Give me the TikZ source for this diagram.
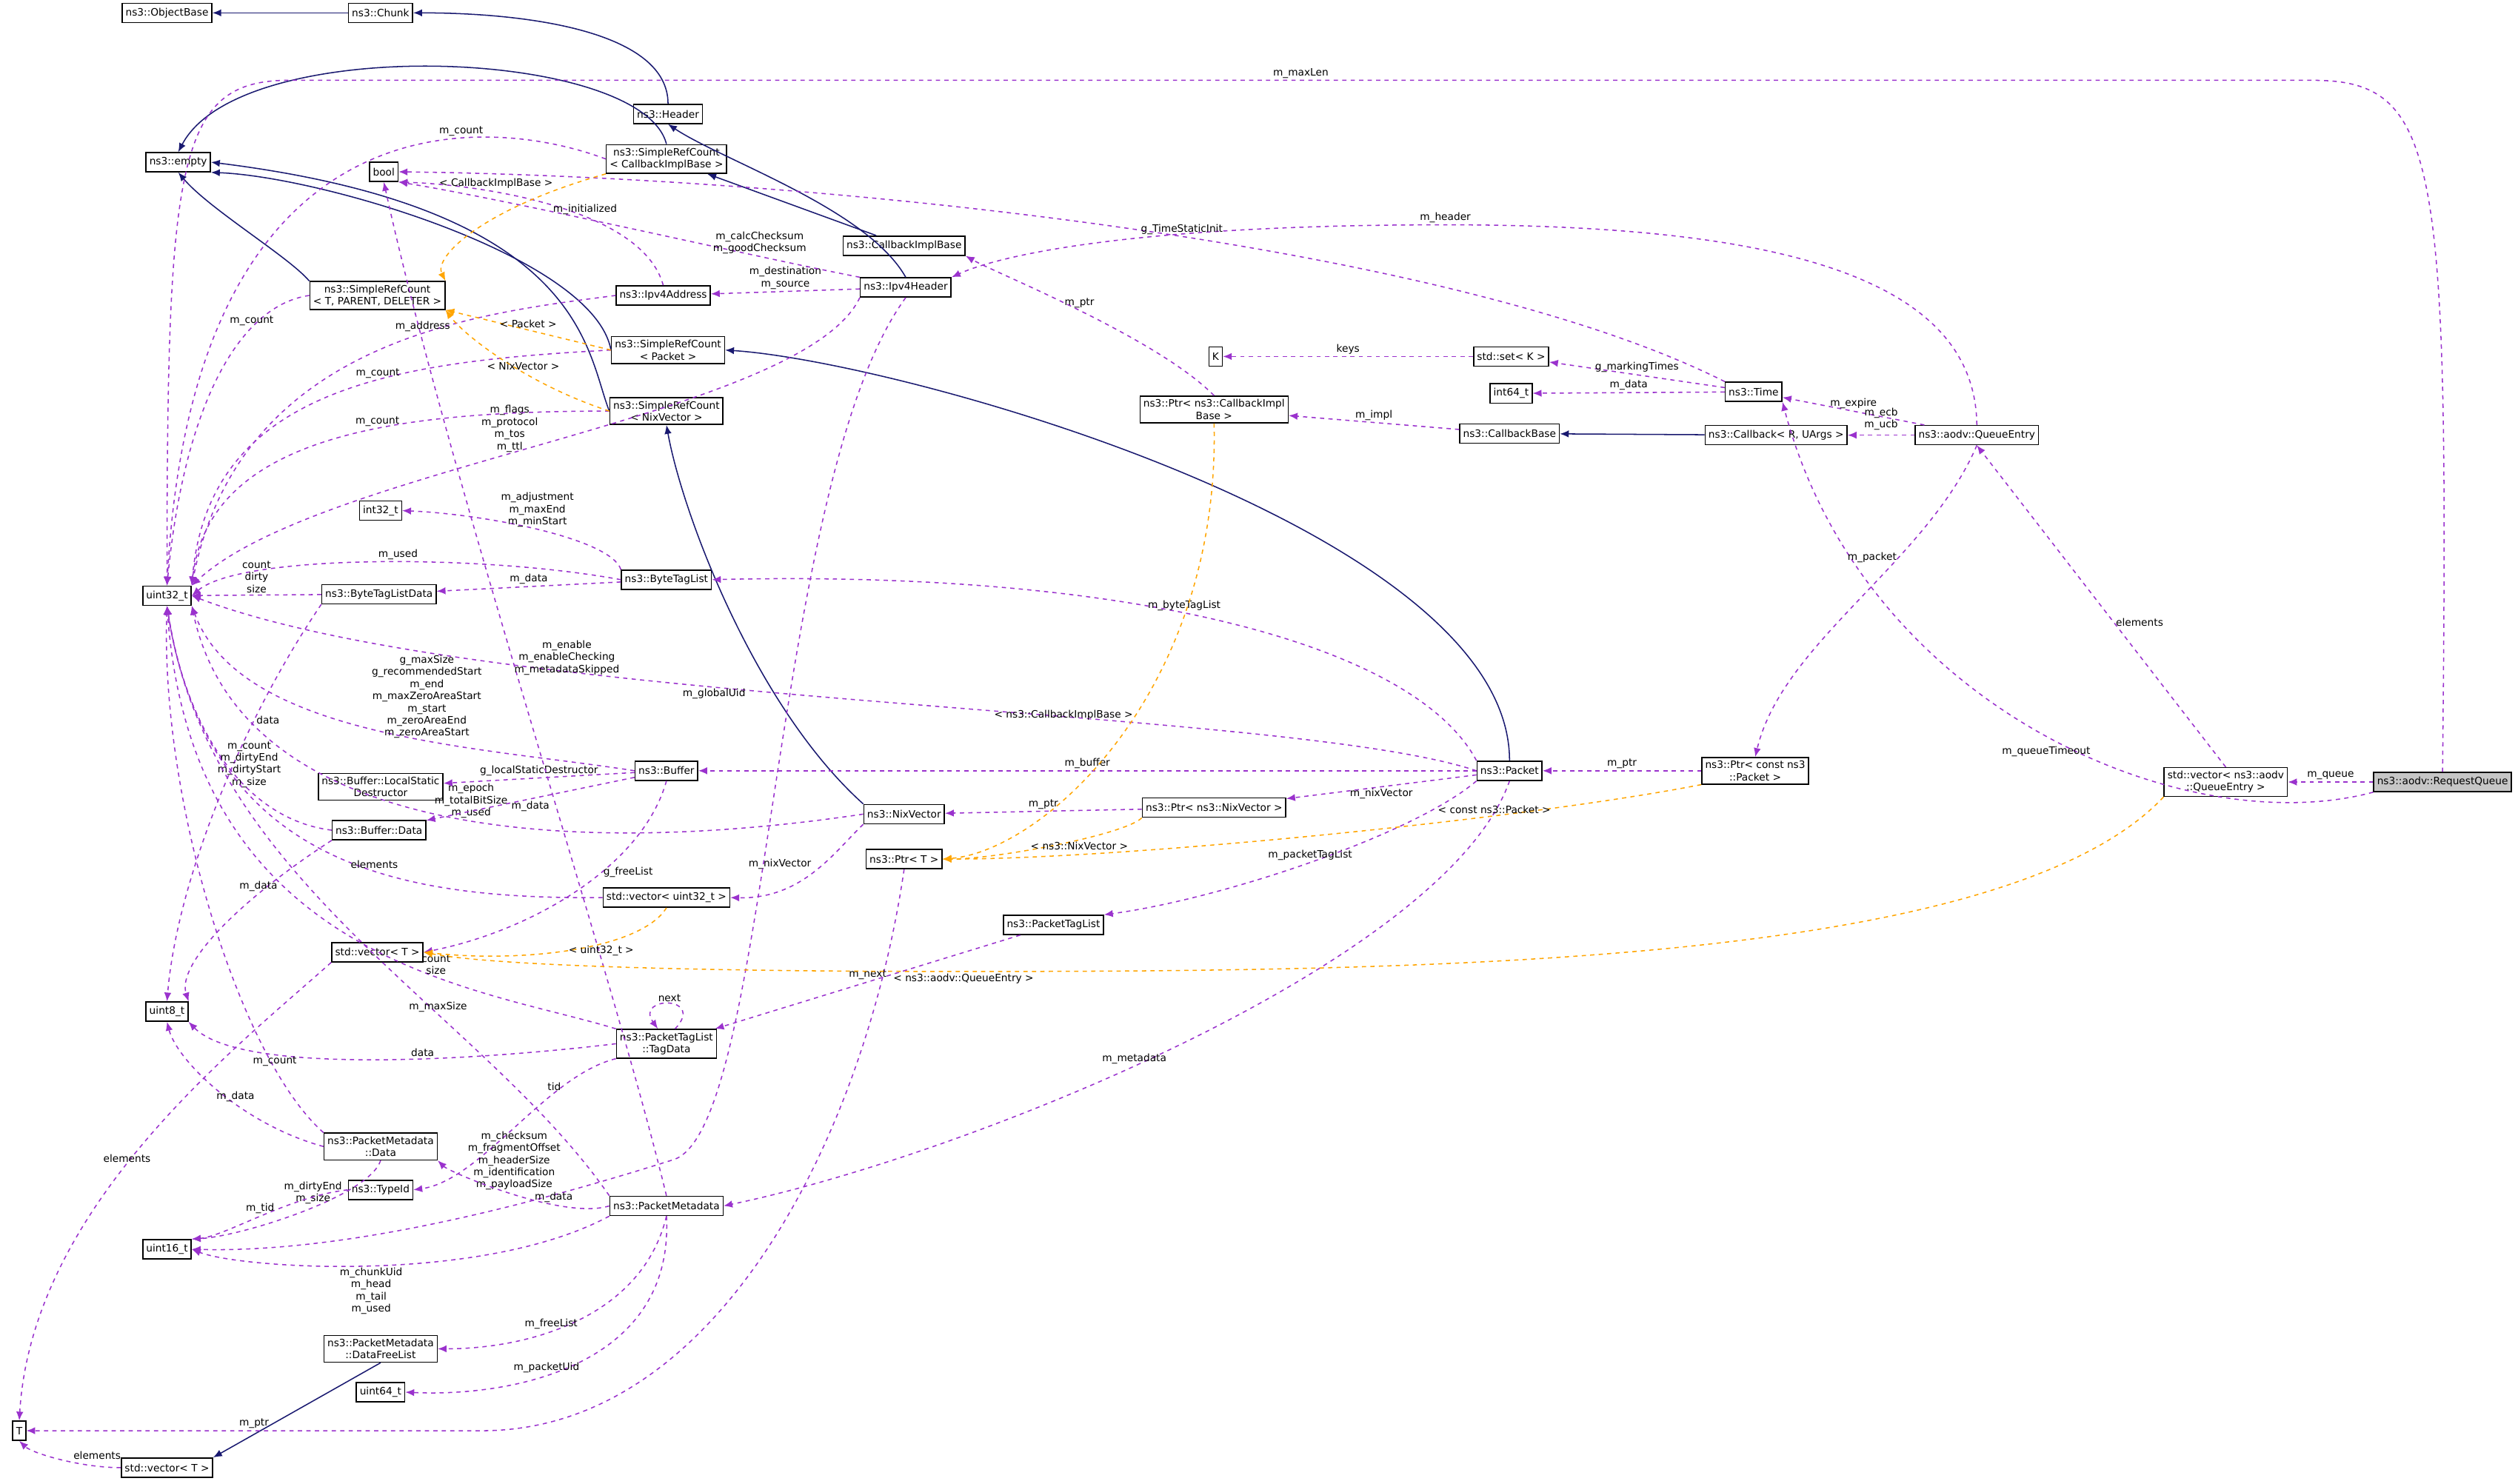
\documentclass[tikz,border=0pt]{standalone}
\usepackage{fontspec}
\setsansfont{DejaVu Sans}
\usetikzlibrary{arrows.meta}
\definecolor{navy}{HTML}{191970}
\definecolor{mauve}{HTML}{9A32CD}
\definecolor{amber}{HTML}{FFA500}
\tikzset{
  cls/.style={draw, rectangle, inner sep=1.2pt, minimum height=0.24cm, align=center,
    font=\sffamily\fontsize{3.6}{4.3}\selectfont},
  cur/.style={cls, fill=gray!45},
  lbl/.style={inner sep=0.6pt, align=center, font=\sffamily\fontsize{3.6}{4.3}\selectfont},
  inh/.style={draw=navy, line width=0.4pt, -{Latex[length=1.1mm,width=0.9mm]}},
  use/.style={draw=mauve, line width=0.4pt, dash pattern=on 1.5pt off 1.5pt, -{Latex[length=1.1mm,width=0.9mm]}},
  tpl/.style={draw=amber, line width=0.4pt, dash pattern=on 1.5pt off 1.5pt, -{Latex[length=1.1mm,width=0.9mm]}}
}
\begin{document}
\begin{tikzpicture}[x=0.02cm, y=-0.02cm]
    \path[fill=white, use as bounding box] (0,0) rectangle (1568,924);
    % classes
    \node[cls] (ObjBase) at (104,8) {ns3::ObjectBase};
    \node[cls] (Chunk) at (237,8) {ns3::Chunk};
    \node[cls] (Empty) at (111,101) {ns3::empty};
    \node[cls] (Bool) at (239,107) {bool};
    \node[cls] (Header) at (416,71) {ns3::Header};
    \node[cls] (SrcCib) at (415,99) {ns3::SimpleRefCount\\< CallbackImplBase >};
    \node[cls] (Cib) at (563,153) {ns3::CallbackImplBase};
    \node[cls] (SrcT) at (235,184) {ns3::SimpleRefCount\\< T, PARENT, DELETER >};
    \node[cls] (Ipv4Addr) at (413,184) {ns3::Ipv4Address};
    \node[cls] (Ipv4Hdr) at (564,179) {ns3::Ipv4Header};
    \node[cls] (SrcPkt) at (416,218) {ns3::SimpleRefCount\\< Packet >};
    \node[cls] (SrcNix) at (415,256) {ns3::SimpleRefCount\\< NixVector >};
    \node[cls] (K) at (757,222) {K};
    \node[cls] (SetK) at (941,222) {std::set< K >};
    \node[cls] (Int64) at (941,245) {int64\_t};
    \node[cls] (Time) at (1092,244) {ns3::Time};
    \node[cls] (PtrCib) at (756,255) {ns3::Ptr< ns3::CallbackImpl\\Base >};
    \node[cls] (CbBase) at (940,270) {ns3::CallbackBase};
    \node[cls] (Cb) at (1106,271) {ns3::Callback< R, UArgs >};
    \node[cls] (QEntry) at (1231,271) {ns3::aodv::QueueEntry};
    \node[cls] (Int32) at (237,318) {int32\_t};
    \node[cls] (BTL) at (415,361) {ns3::ByteTagList};
    \node[cls] (U32) at (104,371) {uint32\_t};
    \node[cls] (BTLD) at (236,370) {ns3::ByteTagListData};
    \node[cls] (Buf) at (415,480) {ns3::Buffer};
    \node[cls] (LSD) at (237,490) {ns3::Buffer::LocalStatic\\Destructor};
    \node[cls] (BufData) at (236,517) {ns3::Buffer::Data};
    \node[cls] (Nix) at (563,507) {ns3::NixVector};
    \node[cls] (PtrNix) at (756,503) {ns3::Ptr< ns3::NixVector >};
    \node[cls] (Pkt) at (940,480) {ns3::Packet};
    \node[cls] (PtrPkt) at (1093,480) {ns3::Ptr< const ns3\\::Packet >};
    \node[cls] (VecQE) at (1386,487) {std::vector< ns3::aodv\\::QueueEntry >};
    \node[cur] (ReqQ) at (1521,487) {ns3::aodv::RequestQueue};
    \node[cls] (PtrT) at (563,535) {ns3::Ptr< T >};
    \node[cls] (VecU32) at (415,559) {std::vector< uint32\_t >};
    \node[cls] (PTL) at (656,576) {ns3::PacketTagList};
    \node[cls] (VecT) at (235,593) {std::vector< T >};
    \node[cls] (U8) at (104,630) {uint8\_t};
    \node[cls] (TagData) at (415,650) {ns3::PacketTagList\\::TagData};
    \node[cls] (PMData) at (237,714) {ns3::PacketMetadata\\::Data};
    \node[cls] (TypeId) at (237,741) {ns3::TypeId};
    \node[cls] (PM) at (415,751) {ns3::PacketMetadata};
    \node[cls] (U16) at (104,778) {uint16\_t};
    \node[cls] (DFL) at (237,840) {ns3::PacketMetadata\\::DataFreeList};
    \node[cls] (U64) at (237,867) {uint64\_t};
    \node[cls] (T) at (12,891) {T};
    \node[cls] (VecTb) at (104,914) {std::vector< T >};
    % inheritance
    \draw[inh] (Chunk) -- (ObjBase);
    \draw[inh] (Header.north) .. controls (416,20) and (330,8) .. (Chunk.east);
    \draw[inh] (SrcCib.north) .. controls (400,30) and (150,20) .. (Empty.north);
    \draw[inh] (Cib) -- (SrcCib);
    \draw[inh] (Ipv4Hdr.north) .. controls (540,130) and (450,100) .. (Header.south);
    \draw[inh] (SrcT.north west) .. controls (180,160) and (130,130) .. (Empty.south);
    \draw[inh] (SrcPkt.west) .. controls (370,160) and (200,110) .. (Empty.south east);
    \draw[inh] (SrcNix.west) .. controls (365,220) and (365,130) .. (Empty.east);
    \draw[inh] (Pkt.north) .. controls (940,330) and (560,225) .. (SrcPkt.east);
    \draw[inh] (Nix.north west) .. controls (470,440) and (425,320) .. (SrcNix.south);
    \draw[inh] (Cb) -- (CbBase);
    \draw[inh] (DFL.south) -- (VecTb.north east);
    % members
    \draw[use] (ReqQ.north) .. controls (1525,100) and (1520,50) .. (1440,50) -- node[lbl,above] {m\_maxLen} (180,50) .. controls (110,50) and (104,100) .. (U32.north);
    \draw[use] (ReqQ) -- node[lbl,above] {m\_queue} (VecQE);
    \draw[use] (ReqQ.south west) .. controls (1360,525) and (1160,440) .. node[lbl,pos=0.42,above left] {m\_queueTimeout} (Time.south east);
    \draw[use] (VecQE.north) -- node[lbl,right,pos=0.45] {elements} (QEntry.south);
    \draw[use] (QEntry.north) .. controls (1230,170) and (1100,140) .. (900,140) .. controls (700,140) and (620,160) .. node[lbl,pos=0.0,above] {m\_header} (Ipv4Hdr.north east);
    \draw[use] (QEntry) -- node[lbl,above] {m\_expire} (Time);
    \draw[use] (QEntry) -- node[lbl,above=1pt] {m\_ecb\\m\_ucb} (Cb);
    \draw[use] (QEntry.south) .. controls (1200,350) and (1110,400) .. node[lbl,pos=0.35,left] {m\_packet} (PtrPkt.north);
    \draw[use] (Time) -- node[lbl,above] {g\_markingTimes} (SetK);
    \draw[use] (Time) -- node[lbl,above] {m\_data} (Int64);
    \draw[use] (Time.north west) .. controls (900,150) and (500,110) .. node[lbl,pos=0.45,above] {g\_TimeStaticInit} (Bool.east);
    \draw[use] (SetK) -- node[lbl,above] {keys} (K);
    \draw[use] (CbBase) -- node[lbl,above] {m\_impl} (PtrCib);
    \draw[use] (PtrCib.north) .. controls (720,210) and (620,170) .. node[lbl,above] {m\_ptr} (Cib.south east);
    \draw[use] (PtrPkt) -- node[lbl,above] {m\_ptr} (Pkt);
    \draw[use] (Pkt) -- node[lbl,above] {m\_buffer} (Buf);
    \draw[use] (Pkt) -- node[lbl,below] {m\_nixVector} (PtrNix);
    \draw[use] (Pkt.north west) .. controls (880,400) and (700,355) .. node[lbl,pos=0.55,above] {m\_byteTagList} (BTL.east);
    \draw[use] (Pkt.south west) .. controls (880,520) and (760,560) .. node[lbl,pos=0.5,above] {m\_packetTagList} (PTL.north east);
    \draw[use] (Pkt.south) .. controls (900,600) and (600,720) .. node[lbl,pos=0.55,above] {m\_metadata} (PM.east);
    \draw[use] (Pkt.west) .. controls (800,440) and (300,440) .. node[lbl,pos=0.6,below] {m\_globalUid} (U32.east);
    \draw[use] (PtrNix) -- node[lbl,above] {m\_ptr} (Nix);
    \draw[use] (Nix.south west) .. controls (520,530) and (500,560) .. node[lbl,pos=0.5,above left] {m\_nixVector} (VecU32.east);
    \draw[use] (Nix.west) .. controls (350,535) and (150,520) .. node[lbl,pos=0.45,above] {m\_epoch\\m\_totalBitSize\\m\_used} (U32.south east);
    \draw[use] (PtrT.south) .. controls (540,700) and (450,891) .. (300,891) -- node[lbl,above] {m\_ptr} (T.east);
    \draw[use] (PTL) -- node[lbl,above] {m\_next} (TagData);
    \draw[use] (TagData.60) .. controls (440,620) and (395,620) .. node[lbl,above] {next} (TagData.120);
    \draw[use] (TagData.north west) .. controls (300,615) and (120,600) .. node[lbl,pos=0.35,above] {count\\size} (U32.south);
    \draw[use] (TagData.west) .. controls (300,660) and (150,670) .. node[lbl,pos=0.4,above] {data} (U8.south east);
    \draw[use] (TagData.south west) .. controls (340,670) and (300,735) .. node[lbl,pos=0.3,above] {tid} (TypeId.east);
    \draw[use] (Ipv4Hdr) -- node[lbl,above] {m\_destination\\m\_source} (Ipv4Addr);
    \draw[use] (Ipv4Hdr.north west) .. controls (470,160) and (320,125) .. node[lbl,pos=0.25,above] {m\_calcChecksum\\m\_goodChecksum} (Bool.south east);
    \draw[use] (Ipv4Addr.north) .. controls (400,130) and (300,115) .. node[lbl,pos=0.4,above] {m\_initialized} (Bool.south east);
    \draw[use] (Ipv4Hdr.south west) .. controls (500,260) and (200,290) .. node[lbl,pos=0.55,above] {m\_flags\\m\_protocol\\m\_tos\\m\_ttl} (U32.north east);
    \draw[use] (Ipv4Hdr.south) .. controls (480,300) and (480,700) .. (420,722) .. controls (300,760) and (200,780) .. node[lbl,pos=0.2,above left] {m\_checksum\\m\_fragmentOffset\\m\_headerSize\\m\_identification\\m\_payloadSize} (U16.east);
    \draw[use] (Ipv4Addr.west) .. controls (300,195) and (150,210) .. node[lbl,pos=0.4,above] {m\_address} (U32.north east);
    \draw[use] (SrcT.west) .. controls (150,190) and (115,250) .. node[lbl,pos=0.3,above] {m\_count} (U32.north);
    \draw[use] (SrcCib.west) .. controls (300,70) and (120,60) .. node[lbl,pos=0.3,above] {m\_count} (U32.north);
    \draw[use] (SrcPkt.west) .. controls (250,225) and (130,240) .. node[lbl,pos=0.4,above] {m\_count} (U32.north east);
    \draw[use] (SrcNix.west) .. controls (250,256) and (130,270) .. node[lbl,pos=0.4,above] {m\_count} (U32.north east);
    \draw[use] (BTL.north west) .. controls (380,335) and (300,320) .. node[lbl,pos=0.5,above] {m\_adjustment\\m\_maxEnd\\m\_minStart} (Int32.east);
    \draw[use] (BTL.west) .. controls (300,345) and (150,345) .. node[lbl,pos=0.45,above] {m\_used} (U32.east);
    \draw[use] (BTL) -- node[lbl,above] {m\_data} (BTLD);
    \draw[use] (BTLD) -- node[lbl,above] {count\\dirty\\size} (U32);
    \draw[use] (BTLD.south west) .. controls (150,450) and (110,550) .. node[lbl,pos=0.3,right] {data} (U8.north);
    \draw[use] (Buf.west) .. controls (300,465) and (150,460) .. node[lbl,pos=0.4,above] {g\_maxSize\\g\_recommendedStart\\m\_end\\m\_maxZeroAreaStart\\m\_start\\m\_zeroAreaEnd\\m\_zeroAreaStart} (U32.south east);
    \draw[use] (Buf) -- node[lbl,above] {g\_localStaticDestructor} (LSD);
    \draw[use] (Buf) -- node[lbl,below] {m\_data} (BufData);
    \draw[use] (Buf.south) .. controls (400,540) and (330,580) .. node[lbl,pos=0.4,right] {g\_freeList} (VecT.east);
    \draw[use] (PM.north) .. controls (380,600) and (280,300) .. node[lbl,pos=0.55,right] {m\_enable\\m\_enableChecking\\m\_metadataSkipped} (Bool.south);
    \draw[use] (BufData.west) .. controls (150,510) and (115,450) .. node[lbl,pos=0.35,above] {m\_count\\m\_dirtyEnd\\m\_dirtyStart\\m\_size} (U32.south);
    \draw[use] (BufData.south west) .. controls (150,560) and (110,600) .. node[lbl,pos=0.3,above] {m\_data} (U8.north east);
    \draw[use] (VecU32.west) .. controls (250,560) and (130,540) .. node[lbl,pos=0.4,above] {elements} (U32.south);
    \draw[use] (VecT.south west) .. controls (150,650) and (20,750) .. node[lbl,pos=0.55,above] {elements} (T.north);
    \draw[use] (PM.north west) .. controls (300,630) and (130,550) .. node[lbl,pos=0.35,above] {m\_maxSize} (U32.south);
    \draw[use] (PM.west) .. controls (350,760) and (280,730) .. node[lbl,pos=0.3,above] {m\_data} (PMData.south east);
    \draw[use] (PM.south west) .. controls (300,800) and (150,790) .. node[lbl,pos=0.5,below] {m\_chunkUid\\m\_head\\m\_tail\\m\_used} (U16.east);
    \draw[use] (PM.south) .. controls (400,820) and (330,840) .. node[lbl,pos=0.6,above] {m\_freeList} (DFL.east);
    \draw[use] (PM.south) .. controls (420,850) and (320,870) .. node[lbl,pos=0.6,above] {m\_packetUid} (U64.east);
    \draw[use] (PMData.west) .. controls (150,700) and (110,660) .. node[lbl,pos=0.4,above] {m\_data} (U8.south);
    \draw[use] (PMData.north west) .. controls (150,660) and (100,500) .. node[lbl,pos=0.2,above] {m\_count} (U32.south);
    \draw[use] (PMData.south) .. controls (230,745) and (150,770) .. node[lbl,pos=0.3,left] {m\_dirtyEnd\\m\_size} (U16.north east);
    \draw[use] (TypeId.west) .. controls (180,745) and (140,770) .. node[lbl,pos=0.5,above] {m\_tid} (U16.north east);
    \draw[use] (VecTb.west) .. controls (50,914) and (20,905) .. node[lbl,pos=0.4,above right] {elements} (T.south);
    % template instances
    \draw[tpl] (SrcCib.south west) .. controls (300,130) and (270,160) .. node[lbl,pos=0.15,above left] {< CallbackImplBase >} (SrcT.north east);
    \draw[tpl] (SrcPkt.west) -- node[lbl,above] {< Packet >} (SrcT.south east);
    \draw[tpl] (SrcNix.west) .. controls (330,240) and (290,210) .. node[lbl,pos=0.4,above] {< NixVector >} (SrcT.south east);
    \draw[tpl] (PtrCib.south) .. controls (760,430) and (650,530) .. node[lbl,pos=0.45,left] {< ns3::CallbackImplBase >} (PtrT.east);
    \draw[tpl] (PtrNix.south west) .. controls (700,520) and (620,535) .. node[lbl,pos=0.4,below] {< ns3::NixVector >} (PtrT.east);
    \draw[tpl] (PtrPkt.south west) .. controls (950,510) and (700,535) .. node[lbl,pos=0.3,above] {< const ns3::Packet >} (PtrT.east);
    \draw[tpl] (VecU32.south) .. controls (400,590) and (330,600) .. node[lbl,pos=0.4,below] {< uint32\_t >} (VecT.east);
    \draw[tpl] (VecQE.south west) .. controls (1250,600) and (900,605) .. (600,605) .. controls (400,605) and (300,600) .. node[lbl,pos=0.0,below] {< ns3::aodv::QueueEntry >} (VecT.east);
\end{tikzpicture}
\end{document}
